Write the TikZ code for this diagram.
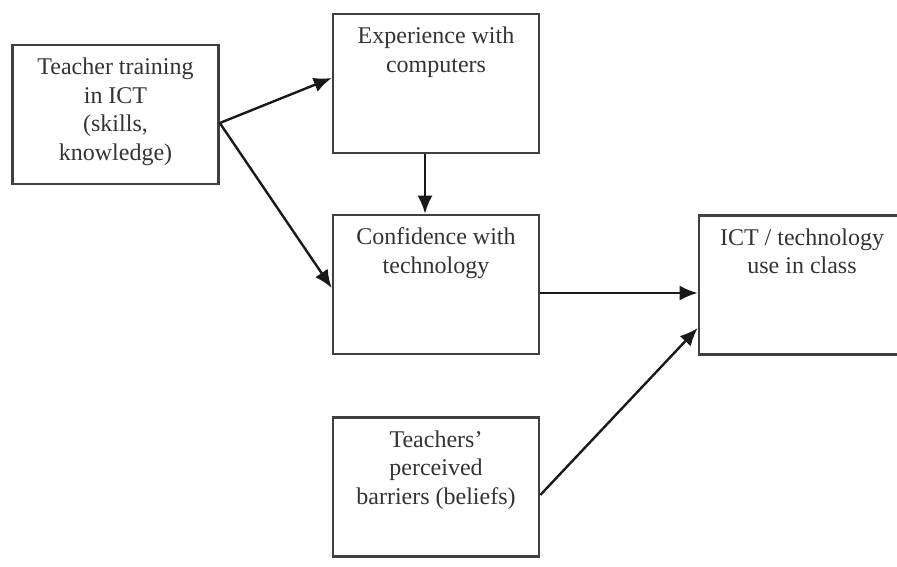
\documentclass[tikz,border=0pt]{standalone}
\usepackage{fontspec}
\setmainfont{Liberation Serif}
\usetikzlibrary{arrows.meta}
\begin{document}
\begin{tikzpicture}[x=1pt,y=-1pt,
  boxnode/.style={draw=black!75, line width=2.6pt, minimum width=206pt, minimum height=139pt, inner sep=0pt},
  lbl/.style={anchor=north, align=center, inner sep=0pt, font=\fontsize{24}{28.5}\selectfont, text=black!80},
  arr/.style={draw=black!90, line width=2.4pt, -{Latex[length=18pt,width=15pt]}}]
\useasboundingbox (0,0) rectangle (897,566);
\clip (0,0) rectangle (897,566);
\node[boxnode] (A) at (115.5,114.5) {};
\node[boxnode] (B) at (436,83.5) {};
\node[boxnode] (C) at (436,284.5) {};
\node[boxnode] (D) at (802,285) {};
\node[boxnode] (E) at (436,487) {};
\node[lbl] (tA) at ([yshift=-14pt]A.north) {Teacher training\\in ICT\\(skills,\\knowledge)};
\node[lbl] (tB) at ([yshift=-14pt]B.north) {Experience with\\computers};
\node[lbl] (tC) at ([yshift=-14pt]C.north) {Confidence with\\technology};
\node[lbl] (tD) at ([yshift=-14pt]D.north) {ICT / technology\\use in class};
\node[lbl] (tE) at ([yshift=-14pt]E.north) {Teachers’\\perceived\\barriers (beliefs)};
\draw[arr] ([yshift=-8.5pt]A.east) -- ([yshift=5.5pt]B.west);
\draw[arr] ([yshift=-8.5pt]A.east) -- ([yshift=-3.5pt]C.west);
\draw[arr] ([xshift=-11pt]B.south) -- ([xshift=-11pt]C.north);
\draw[arr] ([yshift=-8.5pt]C.east) -- ([yshift=-8pt]D.west);
\draw[arr] ([yshift=-8pt]E.east) -- ([yshift=-43pt]D.west);
\end{tikzpicture}
\end{document}
